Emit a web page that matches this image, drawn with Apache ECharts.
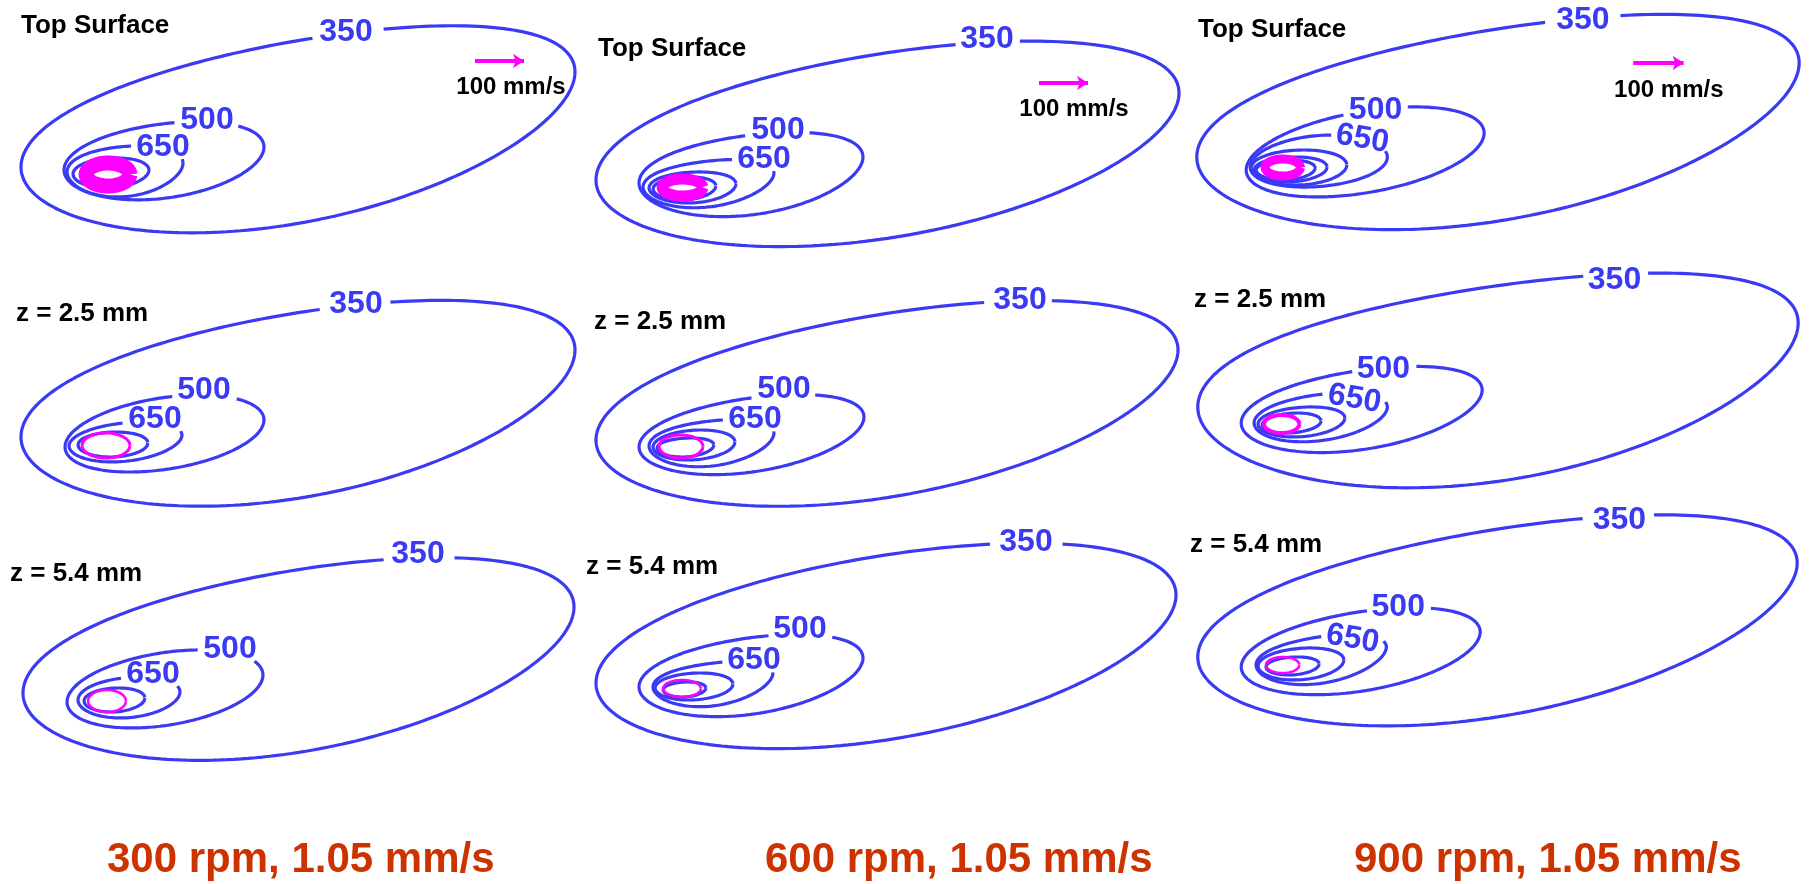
<!DOCTYPE html>
<html>
<head>
<meta charset="utf-8">
<script src="https://cdn.jsdelivr.net/npm/echarts@6/dist/echarts.min.js"></script>
<style>
  html, body { margin: 0; padding: 0; background: #fff; }
  #chart { width: 1812px; height: 884px; }
</style>
</head>
<body>
<div id="chart"></div>
<script>
// panels are listed row by row: rows = depth, columns = tool speed
const depthTitles = ['Top Surface', 'z = 2.5 mm', 'z = 5.4 mm'];
const speedTitles = ['300 rpm, 1.05 mm/s', '600 rpm, 1.05 mm/s', '900 rpm, 1.05 mm/s'];
const levels = ['350', '500', '650'];

// isotherm extremes (panel px):
// [xLeft, yLeft, xRight, yRight, yTop, yBottom]
const iso350 = [
  [21, 167, 575, 72, 29, 235], [16, 180, 599, 93, 43, 248], [17, 157, 627, 63, 18, 232],
  [21, 177, 575, 90, 43, 248], [16, 180, 598, 90, 43, 248], [18, 147, 626, 63, 17, 230],
  [23, 173, 574, 87, 40, 242], [16, 163, 596, 75, 25, 230], [18, 137, 625, 43, -2, 208]
];
const iso500 = [
  [64, 170, 264, 147, 122, 200], [59, 183, 283, 157, 133, 217], [67, 170, 308, 133, 107, 197],
  [65, 187, 264, 160, 135, 212], [59, 187, 284, 157, 135, 215], [62, 163, 306, 130, 107, 193],
  [67, 182, 263, 155, 130, 208], [59, 167, 283, 138, 115, 197], [62, 147, 304, 112, 88, 175]
];
const iso650 = [
  [67, 172, 183, 163, 146, 197], [63, 187, 194, 173, 160, 208], [71, 167, 210, 157, 135, 187],
  [69, 186, 182, 175, 162, 202], [69, 186, 194, 173, 160, 207], [75, 163, 210, 147, 133, 182],
  [78, 180, 180, 172, 157, 198], [73, 167, 193, 153, 142, 187], [77, 145, 209, 127, 115, 165]
];
// unlabelled hotter isotherms around the pin
const isoInner = [
  [[73, 174, 149, 170, 158, 188]],
  [[69, 188, 156, 184, 172, 203], [73, 189, 136, 186, 177, 200]],
  [[72, 168, 169, 165, 150, 185], [75, 170, 149, 167, 157, 182], [77, 170, 137, 168, 160, 180]],
  [[78, 185, 148, 183, 172, 197]],
  [[73, 187, 155, 182, 170, 200], [77, 188, 134, 185, 178, 197]],
  [[79, 164, 167, 158, 147, 177], [83, 165, 143, 161, 153, 173]],
  [[84, 181, 145, 178, 168, 192]],
  [[75, 168, 153, 164, 153, 180], [83, 170, 126, 168, 162, 177]],
  [[79, 146, 166, 140, 128, 160], [87, 147, 141, 144, 137, 155]]
];
// contour label centres
const label350 = [[346, 30], [407, 37], [408, 18], [356, 42], [440, 38], [440, 18], [418, 32], [446, 20], [445, -2]];
const label500 = [[207, 118], [198, 128], [198, 108], [204, 128], [204, 127], [206, 107], [230, 127], [220, 107], [221, 85]];
const label650 = [[163, 145], [184, 157], [185, 137], [155, 157], [175, 157], [177, 137], [153, 152], [174, 138], [175, 117]];

// material velocity ring: [xLeft, xRight, yTop, yBottom]
const velocityRing = [
  [86, 130, 163, 186], [82, 123, 179, 196], [86, 122, 159, 176],
  [82, 130, 173, 198], [79, 123, 175, 198], [85, 121, 155, 173],
  [88, 126, 170, 192], [83, 121, 160, 177], [87, 121, 137, 153]
];
const velocityWidth = [15, 11, 9, 3, 3, 4, 2.5, 2.5, 2.5];

// 100 mm/s reference vector (top row only): [xStart, xEnd, y], text centre
const refVector = [[475, 524, 61], [459, 508, 83], [459, 510, 63]];
const refText = [[511, 85], [494, 107], [495, 88]];

const titlePos = [[21, 24], [18, 47], [18, 28], [16, 52], [14, 60], [14, 38], [10, 52], [6, 45], [10, 23]];

const colX = [0, 580, 1180];
const rowY = [0, 260, 520];
const rowPad = [0, 20, 20];
const speedLeft = [107, 765, 1354];

const BLUE = '#3a3af4';
const PINK = '#ff00ff';
const FONT = "'Liberation Sans', Arial, sans-serif";

function contour(e) {
  const [xL, yL, xR, yR, yT, yB] = e;
  const cx = (xL + xR) / 2, X = (xR - xL) / 2;
  const cy = (yT + yB) / 2, Y = (yB - yT) / 2;
  const k0 = (yL - yR) / 2, k1 = cy - (yL + yR) / 2;
  const h = Math.sqrt(Math.max(Y * Y - k0 * k0, 1));
  const pts = [];
  for (let i = 0; i <= 240; i++) {
    const t = i / 240 * 2 * Math.PI;
    const c = Math.cos(t), s = Math.sin(t);
    pts.push([cx + X * c, cy - k0 * c - k1 * c * c + h * s]);
  }
  return pts;
}

// open the contour where its label sits
function cut(pts, lab) {
  const n = pts.length - 1;
  const inside = pts.map(p => Math.abs(p[0] - lab[0]) < 31 && Math.abs(p[1] - lab[1]) < 14);
  let start = -1;
  for (let i = 0; i < n; i++) {
    if (!inside[i] && inside[(i - 1 + n) % n]) { start = i; break; }
  }
  if (start < 0) return pts;
  const out = [];
  for (let j = 0; j < n; j++) {
    const i = (start + j) % n;
    if (inside[i]) break;
    out.push(pts[i]);
  }
  return out;
}

const textLabel = (color, size) => ({
  show: true, position: 'inside', offset: [0, 2], formatter: d => d.value[2],
  color: color, fontSize: size, fontWeight: 'bold', fontFamily: FONT,
  textBorderWidth: 0, opacity: 1
});

const grids = [], xAxes = [], yAxes = [], series = [], titles = [];

for (let p = 0; p < 9; p++) {
  const r = Math.floor(p / 3), c = p % 3;
  grids.push({ left: colX[c], top: rowY[r] - rowPad[r], width: 640, height: 300 });
  xAxes.push({ gridIndex: p, type: 'value', min: 0, max: 640, show: false });
  yAxes.push({ gridIndex: p, type: 'value', min: -rowPad[r], max: 300 - rowPad[r], inverse: true, show: false });

  const line = (data, color, width, z) => ({
    type: 'line', xAxisIndex: p, yAxisIndex: p, data: data,
    showSymbol: false, silent: true, clip: false, z: z,
    lineStyle: { color: color, width: width }
  });

  series.push(line(cut(contour(iso350[p]), label350[p]), BLUE, 3.2, 2));
  series.push(line(cut(contour(iso500[p]), label500[p]), BLUE, 3.2, 2));
  series.push(line(cut(contour(iso650[p]), label650[p]), BLUE, 3.2, 2));
  isoInner[p].forEach(e => series.push(line(contour(e), BLUE, 3.2, 2)));

  const v = velocityRing[p];
  series.push(line(contour([v[0], (v[2] + v[3]) / 2, v[1], (v[2] + v[3]) / 2, v[2], v[3]]), PINK, velocityWidth[p], 3));

  series.push({
    type: 'scatter', xAxisIndex: p, yAxisIndex: p, clip: false, silent: true, z: 4,
    symbolSize: 1, itemStyle: { color: 'rgba(0,0,0,0)', opacity: 1 },
    data: [label350[p], label500[p], label650[p]].map((pt, i) => ({
      value: [pt[0], pt[1], levels[i]],
      label: { rotate: (c === 2 && i === 2) ? -10 : 0 }
    })),
    label: textLabel(BLUE, 32)
  });

  if (r === 0) {
    const a = refVector[c];
    series.push({
      type: 'lines', coordinateSystem: 'cartesian2d', xAxisIndex: p, yAxisIndex: p,
      silent: true, z: 4, symbol: ['none', 'arrow'], symbolSize: 11,
      lineStyle: { color: PINK, width: 4, curveness: 0, opacity: 1 },
      data: [{ coords: [[a[0], a[2]], [a[1], a[2]]] }]
    });
    series.push({
      type: 'scatter', xAxisIndex: p, yAxisIndex: p, clip: false, silent: true,
      symbolSize: 1, itemStyle: { color: 'rgba(0,0,0,0)', opacity: 1 },
      data: [[refText[c][0], refText[c][1], '100 mm/s']],
      label: textLabel('#000', 24)
    });
  }

  titles.push({
    text: depthTitles[r], left: colX[c] + titlePos[p][0], top: rowY[r] + titlePos[p][1] - 11, padding: 0,
    textStyle: { color: '#000', fontSize: 26, fontWeight: 'bold', fontFamily: FONT }
  });
}

speedTitles.forEach((t, c) => titles.push({
  text: t, left: speedLeft[c], top: 839, padding: 0,
  textStyle: { color: '#cc3300', fontSize: 42, fontWeight: 'bold', fontFamily: FONT }
}));

const chart = echarts.init(document.getElementById('chart'));
chart.setOption({
  animation: false,
  backgroundColor: '#fff',
  title: titles,
  grid: grids,
  xAxis: xAxes,
  yAxis: yAxes,
  series: series
});
</script>
</body>
</html>
